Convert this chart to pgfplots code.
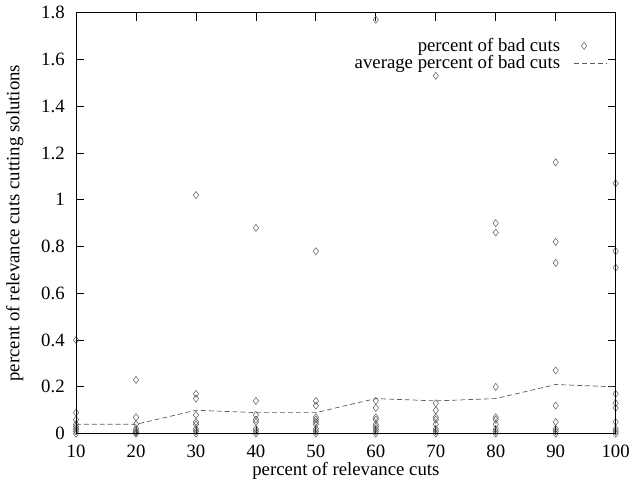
\documentclass[border=0pt]{standalone}
\usepackage{fontspec}
\setmainfont{Liberation Serif}
\usepackage{pgfplots}
\pgfplotsset{compat=1.18}
\pgfplotsset{
  markleg/.style={legend image code/.code={\draw[##1] plot coordinates {(0.35cm,0cm)};}},
  lineleg/.style={legend image code/.code={\draw[##1] (0cm,0cm) -- (1.16cm,0cm);}},
}

\begin{document}
\fontsize{19bp}{22bp}\selectfont
\begin{tikzpicture}
\begin{axis}[
  scale only axis,
  width=546bp, height=426bp,
  xmin=10, xmax=100,
  ymin=0, ymax=1.8,
  xtick={10,20,...,100},
  ytick={0,0.2,...,1.8},
  tick align=inside,
  major tick length=8bp,
  axis line style={draw=black, line width=0.8bp},
  major tick style={draw=black, line width=0.8bp},
  /pgf/number format/assume math mode=true,
  tick label style={font=\fontsize{19bp}{22bp}\selectfont},
  xticklabel style={yshift=-5bp},
  yticklabel style={xshift=-5bp},
  label style={font=\fontsize{19bp}{22bp}\selectfont},
  xlabel={percent of relevance cuts},
  ylabel={percent of relevance cuts cutting solutions},
  xlabel style={yshift=8bp},
  ylabel style={yshift=5bp},
  clip mode=individual,
  legend plot pos=right,
  legend cell align=right,
  legend style={draw=none, fill=none,
    at={(0.99,0.95)}, anchor=north east,
    font=\fontsize{19bp}{22bp}\selectfont, row sep=-3bp,
    /tikz/every odd column/.append style={column sep=12bp}},
]
\addplot[only marks, mark=diamond, mark size=3.6bp, black!65, line width=0.5bp, markleg]
  coordinates {
    (10,0.40) (10,0.09) (10,0.06) (10,0.04) (10,0.03) (10,0.02) (10,0.01) (10,0)
    (20,0.23) (20,0.07) (20,0.04) (20,0.02) (20,0.01) (20,0.005) (20,0)
    (30,1.02) (30,0.17) (30,0.15) (30,0.08) (30,0.05) (30,0.04) (30,0.02) (30,0.01) (30,0)
    (40,0.88) (40,0.14) (40,0.08) (40,0.06) (40,0.05) (40,0.02) (40,0.01) (40,0)
    (50,0.78) (50,0.14) (50,0.12) (50,0.07) (50,0.06) (50,0.05) (50,0.04) (50,0.02) (50,0.01) (50,0)
    (60,1.77) (60,0.14) (60,0.11) (60,0.07) (60,0.06) (60,0.04) (60,0.03) (60,0.02) (60,0.01) (60,0)
    (70,1.53) (70,0.13) (70,0.10) (70,0.07) (70,0.06) (70,0.04) (70,0.02) (70,0.01) (70,0)
    (80,0.90) (80,0.86) (80,0.20) (80,0.07) (80,0.06) (80,0.04) (80,0.02) (80,0.01) (80,0)
    (90,1.16) (90,0.82) (90,0.73) (90,0.27) (90,0.12) (90,0.05) (90,0.02) (90,0.01) (90,0)
    (100,1.07) (100,0.78) (100,0.71) (100,0.17) (100,0.13) (100,0.11) (100,0.05) (100,0.02) (100,0.01) (100,0)
  };
\addlegendentry{percent of bad cuts}
\addplot[black!65, dash pattern=on 5bp off 3bp, line width=0.7bp, lineleg]
  coordinates {
    (10,0.04) (20,0.04) (30,0.10) (40,0.09) (50,0.09)
    (60,0.15) (70,0.14) (80,0.15) (90,0.21) (100,0.20)
  };
\addlegendentry{average percent of bad cuts}
\draw[black, line width=0.8bp] (rel axis cs:0,0) rectangle (rel axis cs:1,1);
\end{axis}
\end{tikzpicture}
\end{document}
